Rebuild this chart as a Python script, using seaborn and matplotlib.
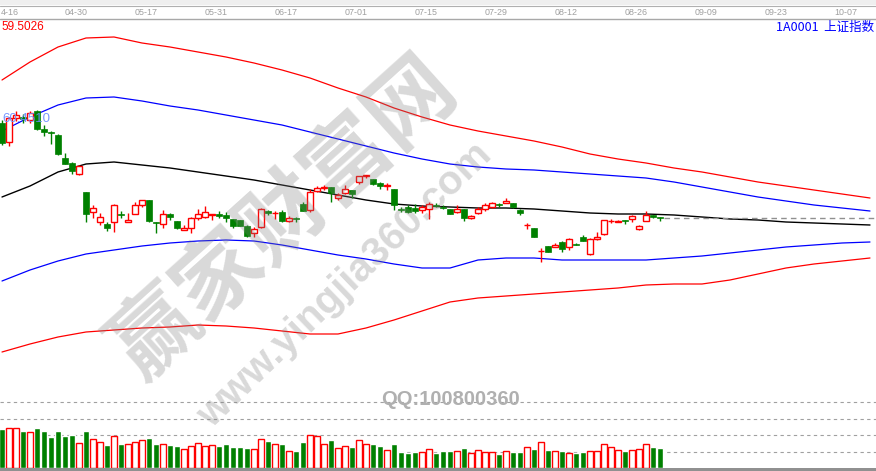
import numpy as np
import pandas as pd
import matplotlib
matplotlib.use("Agg")
import matplotlib.pyplot as plt
import seaborn as sns
from matplotlib.patches import Rectangle
from matplotlib.lines import Line2D

sns.set_theme(style="white")
plt.rcParams["font.family"] = ["Liberation Sans", "DejaVu Sans"]

# ---------------- data ----------------
date_labels = ["4-16", "04-30", "05-17", "05-31", "06-17", "07-01", "07-15",
               "07-29", "08-12", "08-26", "09-09", "09-23", "10-07"]

opens = [37.7, 35.8, 38.2, 38.3, 38.0, 38.9, 37.1, 36.8, 36.5, 34.2,
         33.7, 32.6, 30.8, 28.8, 27.8, 27.6, 27.8, 28.6, 27.8, 28.6,
         29.5, 30.0, 27.8, 27.6, 28.6, 27.9, 27.0, 27.2, 28.2, 28.3,
         28.55, 28.6, 28.5, 28.1, 28.0, 27.4, 26.7, 27.3, 28.9, 28.7,
         28.8, 27.9, 28.2, 29.6, 29.0, 30.9, 31.25, 31.3, 30.2, 30.7,
         31.0, 31.8, 32.4, 32.1, 31.7, 31.4, 31.1, 29.1, 29.3, 29.2,
         29.0, 29.1, 29.5, 29.3, 29.1, 28.8, 29.1, 28.2, 28.7, 29.1,
         29.3, 29.6, 29.7, 29.7, 29.0, 27.5, 27.2, 24.9, 25.4, 25.3,
         25.8, 25.3, 25.6, 26.3, 24.6, 26.1, 26.6, 27.9, 27.8, 28.0,
         28.1, 27.1, 27.9, 28.5, 28.3]
highs = [38.0, 38.3, 38.9, 38.6, 38.9, 39.0, 37.5, 36.9, 36.6, 34.7,
         33.8, 33.5, 30.8, 29.5, 28.7, 27.8, 29.6, 28.9, 28.7, 29.8,
         30.0, 30.0, 27.8, 29.0, 28.7, 27.9, 27.5, 28.3, 29.1, 29.4,
         28.6, 28.9, 28.8, 28.1, 28.0, 27.5, 27.3, 29.2, 29.0, 28.9,
         29.0, 28.4, 28.3, 29.8, 31.1, 31.4, 31.5, 31.3, 30.7, 31.5,
         31.0, 32.4, 32.5, 32.1, 31.8, 31.7, 31.1, 29.3, 29.5, 29.6,
         29.5, 29.8, 29.7, 29.5, 29.1, 29.5, 29.1, 28.5, 29.3, 29.7,
         29.8, 29.7, 30.2, 29.7, 29.1, 27.7, 27.2, 25.2, 25.4, 25.7,
         25.9, 26.2, 25.7, 26.5, 26.2, 26.8, 28.0, 28.1, 28.0, 28.0,
         28.5, 27.5, 28.9, 28.5, 28.3]
lows = [35.5, 35.4, 37.9, 37.7, 37.7, 37.0, 36.4, 35.6, 34.5, 33.6,
        32.6, 32.5, 27.8, 28.2, 27.5, 26.9, 26.8, 28.2, 27.8, 28.6,
        29.3, 27.8, 26.7, 27.2, 28.0, 27.1, 27.0, 26.7, 28.0, 28.2,
        28.0, 28.2, 27.8, 27.2, 27.4, 26.3, 26.3, 27.2, 28.5, 28.1,
        27.8, 27.8, 27.8, 28.9, 28.8, 30.8, 31.0, 29.8, 30.0, 30.6,
        30.2, 31.6, 32.2, 31.5, 31.1, 31.0, 29.0, 28.8, 28.7, 28.7,
        28.7, 28.1, 29.3, 29.1, 28.6, 28.7, 27.9, 28.1, 28.6, 28.9,
        29.2, 29.3, 29.7, 29.2, 28.5, 27.1, 26.3, 23.8, 24.8, 25.3,
        24.8, 25.0, 25.5, 25.9, 24.5, 26.0, 26.5, 27.7, 27.8, 27.6,
        27.8, 27.0, 27.9, 28.2, 27.9]
closes = [35.7, 38.2, 38.5, 38.1, 38.7, 37.1, 36.8, 36.7, 34.6, 33.6,
          32.9, 33.4, 28.6, 29.2, 28.3, 27.2, 29.5, 28.55, 28.0, 29.5,
          30.0, 27.9, 27.75, 28.6, 28.3, 27.2, 27.2, 28.2, 28.6, 28.8,
          28.6, 28.4, 28.2, 27.4, 27.4, 26.4, 27.1, 29.1, 28.7, 28.75,
          27.9, 28.2, 28.15, 28.9, 30.8, 31.2, 31.3, 30.7, 30.5, 31.1,
          30.6, 32.4, 32.45, 31.6, 31.4, 31.5, 29.5, 29.05, 28.8, 28.9,
          29.3, 29.6, 29.45, 29.25, 28.6, 29.1, 28.2, 28.4, 29.1, 29.5,
          29.7, 29.55, 29.9, 29.3, 28.7, 27.55, 26.3, 24.95, 24.8, 25.5,
          25.1, 26.1, 25.55, 25.9, 26.1, 26.3, 28.0, 27.95, 27.9, 27.95,
          28.4, 27.4, 28.5, 28.3, 28.25]
volumes = [39, 39.7, 39.7, 37, 35.7, 40, 37, 31, 37, 32,
           33, 24.7, 37, 28.7, 25.7, 23, 31.7, 24, 23.7, 25.7,
           27.7, 30, 24, 23.7, 23, 22, 18.7, 21.7, 24.7, 21.7,
           22.7, 22, 24, 21, 21, 20, 18.7, 28.7, 27, 23.7,
           24, 16.7, 16.7, 26, 32.7, 31.7, 23.7, 28, 19.7, 21.7,
           20.7, 27.7, 23.7, 24, 22, 17.7, 24, 16, 15, 16,
           15.7, 18.7, 15, 17, 17, 16.7, 20, 15, 17.7, 16,
           16, 14, 16.7, 16, 16, 20.7, 19, 25.7, 18, 16.7,
           16.7, 15, 15, 16, 16.7, 16.7, 23.7, 20.7, 17.7, 16.7,
           17.7, 18.7, 23.7, 21, 20]

# Bollinger-style bands sampled every 4 bars (bar index 0..124)
band_x = list(range(0, 125, 4))
upper2 = [42.0, 43.8, 45.3, 46.2, 46.3, 45.7, 45.3, 44.8, 44.3, 43.7, 43.0, 42.2,
          41.2, 40.3, 39.2, 38.3, 37.5, 36.9, 36.4, 35.9, 35.3, 34.6, 34.1, 33.7,
          33.2, 32.8, 32.3, 31.8, 31.4, 31.0, 30.6, 30.2]
upper1 = [36.9, 38.3, 39.5, 40.2, 40.3, 39.9, 39.4, 39.0, 38.5, 38.0, 37.5, 36.8,
          36.1, 35.4, 34.7, 34.1, 33.6, 33.3, 33.1, 33.0, 32.8, 32.6, 32.4, 32.2,
          31.8, 31.3, 30.8, 30.3, 29.9, 29.5, 29.2, 28.9]
middle = [30.3, 31.4, 32.8, 33.6, 33.8, 33.5, 33.2, 32.8, 32.4, 32.0, 31.5, 31.0,
          30.5, 30.0, 29.6, 29.4, 29.3, 29.2, 29.2, 29.1, 28.9, 28.7, 28.6, 28.6,
          28.5, 28.3, 28.1, 28.0, 27.8, 27.7, 27.6, 27.5]
lower1 = [21.9, 23.0, 23.9, 24.6, 25.0, 25.4, 25.7, 25.9, 26.0, 25.9, 25.5, 25.0,
          24.5, 24.1, 23.6, 23.2, 23.2, 24.0, 24.2, 24.2, 24.0, 24.0, 24.0, 24.0,
          24.2, 24.4, 24.7, 25.0, 25.3, 25.5, 25.7, 25.8]
lower2 = [14.8, 15.6, 16.3, 16.8, 17.0, 17.2, 17.3, 17.5, 17.4, 17.2, 16.9, 16.6,
          16.6, 17.2, 18.0, 18.9, 19.8, 20.2, 20.4, 20.6, 20.8, 21.0, 21.2, 21.5,
          21.6, 21.6, 22.0, 22.6, 23.2, 23.6, 23.9, 24.2]
last_level = 28.25
vol_grid = [16.5, 33, 49.5, 66]

# ---------------- figure ----------------
W, H = 876, 471
fig = plt.figure(figsize=(W / 100, H / 100), dpi=100)
fig.patch.set_facecolor("white")


def fy(px):
    return 1 - px / H


XMIN, XMAX = -2 / 7, 874 / 7
RED, GREEN = "#ff0000", "#008000"

ax = fig.add_axes([0, fy(395), 1, fy(19) - fy(395)])
axv = fig.add_axes([0, fy(468), 1, fy(395) - fy(468)])
for a in (ax, axv):
    a.set_xlim(XMIN, XMAX)
    a.set_axis_off()
    a.patch.set_alpha(0)
ax.set_ylim(50 - 395 / 10, 50 - 19 / 10)
axv.set_ylim(0, 73)

# bands
for vals, col, lw in [(upper2, RED, 0.9), (upper1, "#0000ff", 0.9),
                      (middle, "black", 1.0), (lower1, "#0000ff", 0.9),
                      (lower2, RED, 0.9)]:
    sns.lineplot(x=band_x, y=vals, color=col, lw=lw, ax=ax, legend=False)

# candles
df = pd.DataFrame({"o": opens, "h": highs, "l": lows, "c": closes, "v": volumes})
df["i"] = np.arange(len(df))
df["up"] = df["c"] >= df["o"]
for _, r in df.iterrows():
    col = RED if r.up else GREEN
    ax.vlines(r.i, r.l, r.h, color=col, lw=1.0, zorder=3)
    lo, hi = min(r.o, r.c), max(r.o, r.c)
    ht = max(hi - lo, 0.02)
    if r.up:
        ax.bar(r.i, ht, bottom=lo, width=0.72, facecolor="white",
               edgecolor=col, lw=1.0, zorder=4)
    else:
        ax.bar(r.i, ht, bottom=lo, width=0.84, facecolor=col,
               edgecolor=col, lw=0.5, zorder=4)

ax.plot([len(df) - 0.4, XMAX], [last_level, last_level], color="#909090",
        lw=1.0, ls=(0, (4, 3)), zorder=2)

# volume
for g in vol_grid:
    axv.axhline(g, color="#a0a0a0", lw=0.8, ls=(0, (3, 3)), zorder=1)
up = df[df.up]
dn = df[~df.up]
axv.bar(dn.i, dn.v, width=0.84, color=GREEN, zorder=3)
axv.bar(up.i, up.v, width=0.72, facecolor="white", edgecolor=RED, lw=1.0, zorder=3)

# frame pieces: toolbar strip, date strip, bottom line
fig.patches.append(Rectangle((0, fy(5)), 1, 5 / H, transform=fig.transFigure,
                             facecolor="#efefef", edgecolor="none", zorder=0))
fig.lines.append(Line2D([0, 1], [fy(5.5), fy(5.5)], transform=fig.transFigure,
                        color="#b0b0b0", lw=0.8))
fig.lines.append(Line2D([0, 1], [fy(18.5), fy(18.5)], transform=fig.transFigure,
                        color="#a8a8a8", lw=1.0))
fig.patches.append(Rectangle((0, 0), 1, 3 / H, transform=fig.transFigure,
                             facecolor="#909090", edgecolor="none", zorder=5))

for k, lab in enumerate(date_labels):
    if k == 0:
        fig.text(0.5 / W, fy(12.5), lab, ha="left", va="center", fontsize=6.4,
                 color="#a0a0a0")
        continue
    xc = (6 + 70 * k) / W
    fig.text(xc, fy(12.5), lab, ha="center", va="center", fontsize=6.4,
             color="#a0a0a0")

fig.text(1 / W, fy(27), "59.5026", ha="left", va="center", fontsize=8.5,
         color=RED)
fig.text(874 / W, fy(27), "1A0001  上证指数", ha="right", va="center",
         fontsize=9, color="#0000ff",
         family=["Noto Sans CJK SC", "DejaVu Sans"])
fig.text(2 / W, fy(119), "60.4510", ha="left", va="center", fontsize=9.5,
         color="#6a8cff", alpha=0.9)

# watermark
fig.text(285 / W, fy(218), "赢家财富网", ha="center", va="center",
         fontsize=62, rotation=42, color="#808080", alpha=0.3,
         fontweight="bold", family=["Noto Sans CJK SC", "DejaVu Sans"],
         rotation_mode="anchor", zorder=10)
fig.text(345 / W, fy(285), "www.yingjia360.com", ha="center", va="center",
         fontsize=29, rotation=44, color="#808080", alpha=0.3,
         fontweight="bold", rotation_mode="anchor", zorder=10)
fig.text(451 / W, fy(399.5), "QQ:100800360", ha="center", va="center",
         fontsize=14.5, color="#b0b0b0", fontweight="bold", zorder=10)

fig.savefig("out.png", dpi=100)
